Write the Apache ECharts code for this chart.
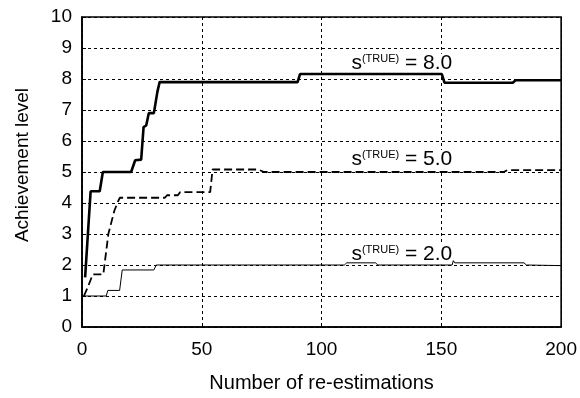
<!DOCTYPE html>
<html>
<head>
<meta charset="utf-8">
<script src="https://cdn.jsdelivr.net/npm/echarts@6/dist/echarts.min.js"></script>
<style>
html,body{margin:0;padding:0;background:#fff;}
#chart{width:580px;height:398px;}
</style>
</head>
<body>
<div id="chart"></div>
<script>
// ---- data ----
const xTicks = [0, 50, 100, 150, 200];
const yTicks = [0, 1, 2, 3, 4, 5, 6, 7, 8, 9, 10];

// s(TRUE) = 8.0  (thick solid)
const s8Points = [
  [1.3, 1.6], [3.6, 4.38], [7.4, 4.38], [8.7, 5.0], [20.5, 5.0], [22.2, 5.38],
  [24.7, 5.4], [25.7, 6.45], [26.8, 6.5], [27.9, 6.9], [30, 6.9], [31.5, 7.6],
  [32.4, 7.9], [90, 7.9], [91, 8.16], [150.2, 8.16], [151.3, 7.88], [179.8, 7.88],
  [181, 7.96], [200, 7.96]
];
// s(TRUE) = 5.0  (dashed)
const s5Points = [
  [0.8, 1.0], [2.5, 1.3], [4.5, 1.7], [8.9, 1.7], [11, 3.0], [11.7, 3.04],
  [13.5, 3.75], [15.1, 4.06], [15.8, 4.17], [34.6, 4.17], [35.5, 4.25], [40, 4.25],
  [41, 4.35], [53.5, 4.35], [54.5, 5.08], [73.5, 5.08], [76, 5.0], [176, 5.0],
  [177.5, 5.06], [200, 5.06]
];
// s(TRUE) = 2.0  (thin solid)
const s2Points = [
  [0, 1.0], [10.1, 1.0], [10.8, 1.18], [15.7, 1.18], [16.8, 1.84], [30, 1.84],
  [31, 2.0], [109.5, 2.0], [110.5, 2.07], [122.5, 2.07], [123.5, 2.0], [154.5, 2.0],
  [155, 2.14], [155.6, 2.07], [184.5, 2.07], [185.5, 2.0], [200, 1.98]
];

const labelNames = ['8.0', '5.0', '2.0'];
const labelCoords = [[133.5, 8.49], [133.5, 5.39], [133.5, 2.33]];

// ---- chart ----
const FONT = 'Liberation Sans, Arial, Helvetica, sans-serif';
const chart = echarts.init(document.getElementById('chart'), null, {renderer: 'canvas'});

function annot(i) {
  return {
    symbol: 'circle',
    symbolSize: 0,
    silent: true,
    z: 1,
    data: [{
      coord: labelCoords[i],
      label: {
        show: true,
        position: 'inside',
        formatter: '{s|s}{sup|(TRUE)}{s| = ' + labelNames[i] + '}',
        backgroundColor: '#fff',
        padding: [0, 1, 0, 1],
        lineHeight: 26,
        rich: {
          s: {fontFamily: FONT, fontSize: 21, color: '#000', lineHeight: 20, verticalAlign: 'bottom'},
          sup: {fontFamily: FONT, fontSize: 11, color: '#000', lineHeight: 10, verticalAlign: 'top'}
        }
      }
    }]
  };
}

chart.setOption({
  animation: false,
  backgroundColor: '#fff',
  grid: {left: 82, right: 18, top: 17, bottom: 70, show: true, borderColor: '#000', borderWidth: 1.6, backgroundColor: 'rgba(0,0,0,0)'},
  xAxis: {
    type: 'value', min: xTicks[0], max: xTicks[xTicks.length - 1], interval: xTicks[1] - xTicks[0],
    axisLine: {show: true, onZero: false, lineStyle: {color: '#000', width: 1.6}},
    axisTick: {show: true, inside: true, length: 4, lineStyle: {color: '#000'}},
    axisLabel: {color: '#000', fontFamily: FONT, fontSize: 19, margin: 13},
    splitLine: {show: true, lineStyle: {color: '#000', width: 1, type: [3, 3]}},
    name: 'Number of re-estimations', nameLocation: 'middle', nameGap: 46,
    nameTextStyle: {color: '#000', fontFamily: FONT, fontSize: 20}
  },
  yAxis: {
    type: 'value', min: yTicks[0], max: yTicks[yTicks.length - 1], interval: yTicks[1] - yTicks[0],
    axisLine: {show: true, onZero: false, lineStyle: {color: '#000', width: 1.6}},
    axisTick: {show: true, inside: true, length: 4, lineStyle: {color: '#000'}},
    axisLabel: {color: '#000', fontFamily: FONT, fontSize: 19, margin: 10},
    splitLine: {show: true, lineStyle: {color: '#000', width: 1, type: [3, 3]}},
    name: 'Achievement level', nameLocation: 'middle', nameGap: 50,
    nameTextStyle: {color: '#000', fontFamily: FONT, fontSize: 19, padding: [0, 0, 0, 14]}
  },
  series: [{
    type: 'line', name: 's8', data: s8Points, showSymbol: false, symbol: 'none',
    lineStyle: {color: '#000', width: 2.6}, z: 5, markPoint: annot(0)
  }, {
    type: 'line', name: 's5', data: s5Points, showSymbol: false, symbol: 'none',
    lineStyle: {color: '#000', width: 1.8, type: [8, 4]}, z: 4, markPoint: annot(1)
  }, {
    type: 'line', name: 's2', data: s2Points, showSymbol: false, symbol: 'none',
    lineStyle: {color: '#000', width: 1}, z: 3, markPoint: annot(2)
  }]
});
</script>
</body>
</html>
